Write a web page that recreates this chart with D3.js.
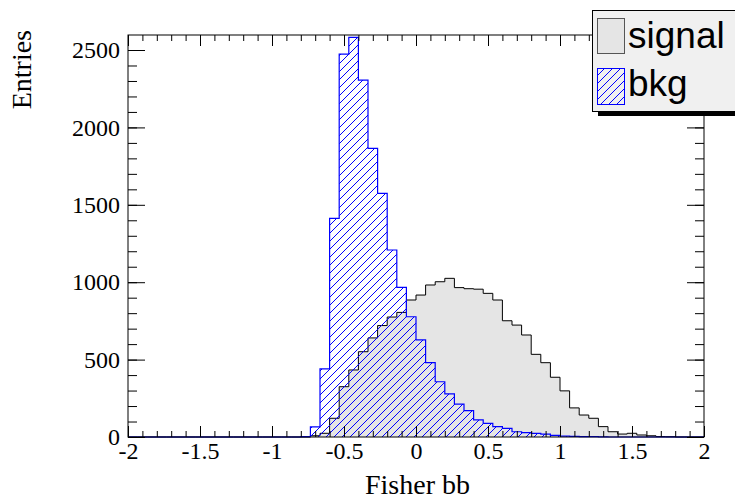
<!DOCTYPE html>
<html><head><meta charset="utf-8">
<script src="https://cdn.jsdelivr.net/npm/d3@7"></script>
<style>body{margin:0;background:#fff}svg{display:block}</style>
</head><body>
<svg id="c" width="735" height="499"></svg>
<script>
// 60 bins from -2 to 2 (bin width 0.0667)
const xMin = -2, xMax = 2, nBins = 60;
const signal = [0,0,0,0,0,0,0,0,0,0, 0,0,0,0,0,0,0,0,0,8,
  24,121,325,433,551,640,720,775,805,885,
  917,982,1003,1025,965,958,955,928,885,751,
  723,659,534,480,386,298,188,142,121,67,
  34,19,24,13,8,3,2,0,0,0];
const bkg = [0,0,0,0,0,0,0,0,0,0, 0,0,0,0,0,0,0,0,3,65,
  440,1413,2474,2582,2306,1865,1574,1208,967,777,
  627,480,357,278,213,170,110,88,67,56,
  34,28,24,19,11,6,4,3,2,1,
  0,0,0,0,0,0,0,0,0,0];
const xTicks = [-2,-1.5,-1,-0.5,0,0.5,1,1.5,2];
const xTickLabels = ["-2","-1.5","-1","-0.5","0","0.5","1","1.5","2"];
const yTicks = [0,500,1000,1500,2000,2500];
const yTickLabels = ["0","500","1000","1500","2000","2500"];
const legendLabels = ["signal","bkg"];
const xTitle = "Fisher bb", yTitle = "Entries";

const svg = d3.select("#c");
const L=128, R=704, T=35, B=437;
const x = d3.scaleLinear().domain([xMin,xMax]).range([L,R]);
const y = d3.scaleLinear().domain([0,2597]).range([B,T]);
const bw = (xMax-xMin)/nBins;
const defs = svg.append("defs");

function stepPts(vals){
  const pts=[[x(xMin),y(0)]];
  vals.forEach((v,i)=>{const a=xMin+i*bw,b=a+bw;pts.push([x(a),y(v)]);pts.push([x(b),y(v)]);});
  pts.push([x(xMax),y(0)]);
  return pts;
}
function hatchIn(clipId, x0, x1, y0, y1){
  const g = svg.append("g").attr("clip-path",`url(#${clipId})`);
  const H = y1-y0, s=8;
  for(let k=x0-H-s; k<x1+s; k+=s){
    g.append("line").attr("x1",k).attr("y1",y1).attr("x2",k+H).attr("y2",y0)
      .attr("stroke","#0000ff").attr("stroke-width",1);
  }
}
const line = d3.line();
svg.append("path").attr("d",line(stepPts(signal))+"Z").attr("fill","#e5e5e5").attr("stroke","none");
svg.append("path").attr("d",line(stepPts(signal))).attr("fill","none").attr("stroke","#000").attr("stroke-width",1);
defs.append("clipPath").attr("id","bkgClip").append("path").attr("d",line(stepPts(bkg))+"Z");
hatchIn("bkgClip", L, R, T, B);
svg.append("path").attr("d",line(stepPts(bkg))).attr("fill","none").attr("stroke","#0000ff").attr("stroke-width",1.2);

// frame
svg.append("rect").attr("x",L).attr("y",T).attr("width",R-L).attr("height",B-T)
  .attr("fill","none").attr("stroke","#000").attr("stroke-width",1);

// ticks
const xMinor = d3.range(-20,21).map(d=>d/10);
const yMinor = d3.range(0,26).map(d=>d*100);
function axis(gen, tr, vals, size, fmt){
  const g=svg.append("g").attr("transform",tr).call(gen.tickValues(vals).tickSize(size).tickSizeOuter(0).tickFormat(fmt));
  g.select(".domain").remove();
  g.selectAll("line").attr("stroke","#000");
  return g;
}
axis(d3.axisBottom(x),`translate(0,${B})`,xMinor,-6,()=> "");
axis(d3.axisTop(x),`translate(0,${T})`,xMinor,-6,()=> "");
axis(d3.axisTop(x),`translate(0,${T})`,xTicks,-11,()=> "");
const gx = axis(d3.axisBottom(x),`translate(0,${B})`,xTicks,-11,(d,i)=>xTickLabels[i]);
gx.selectAll("text").attr("y",5).attr("dy","0.71em").attr("font-family","Liberation Serif").attr("font-size",24).attr("fill","#000");
axis(d3.axisLeft(y),`translate(${L},0)`,yMinor,-9,()=> "");
axis(d3.axisRight(y),`translate(${R},0)`,yMinor,-9,()=> "");
axis(d3.axisRight(y),`translate(${R},0)`,yTicks,-17,()=> "");
const gy = axis(d3.axisLeft(y),`translate(${L},0)`,yTicks,-17,(d,i)=>yTickLabels[i]);
gy.selectAll("text").attr("x",-8).attr("font-family","Liberation Serif").attr("font-size",24).attr("fill","#000");

svg.append("text").attr("x",470).attr("y",494).attr("text-anchor","end").attr("font-family","Liberation Serif")
  .attr("font-size",28).text(xTitle);
svg.append("text").attr("transform","translate(31,30) rotate(-90)").attr("text-anchor","end")
  .attr("font-family","Liberation Serif").attr("font-size",28).text(yTitle);

// legend
svg.append("rect").attr("x",598).attr("y",14).attr("width",150).attr("height",102).attr("fill","#000");
svg.append("rect").attr("x",592.5).attr("y",10.5).attr("width",150).attr("height",101).attr("fill","#f0f0f0").attr("stroke","#000");
svg.append("rect").attr("x",597.5).attr("y",18.5).attr("width",27).attr("height",35).attr("fill","#e5e5e5").attr("stroke","#555");
defs.append("clipPath").attr("id","legClip").append("rect").attr("x",597.5).attr("y",68.5).attr("width",27).attr("height",36);
hatchIn("legClip", 597, 625, 68, 105);
svg.append("rect").attr("x",597.5).attr("y",68.5).attr("width",27).attr("height",36).attr("fill","none").attr("stroke","#0000ff");
svg.append("text").attr("x",628).attr("y",48).attr("font-family","Liberation Sans").attr("font-size",37).text(legendLabels[0]);
svg.append("text").attr("x",628).attr("y",96).attr("font-family","Liberation Sans").attr("font-size",37).text(legendLabels[1]);
</script>
</body></html>
